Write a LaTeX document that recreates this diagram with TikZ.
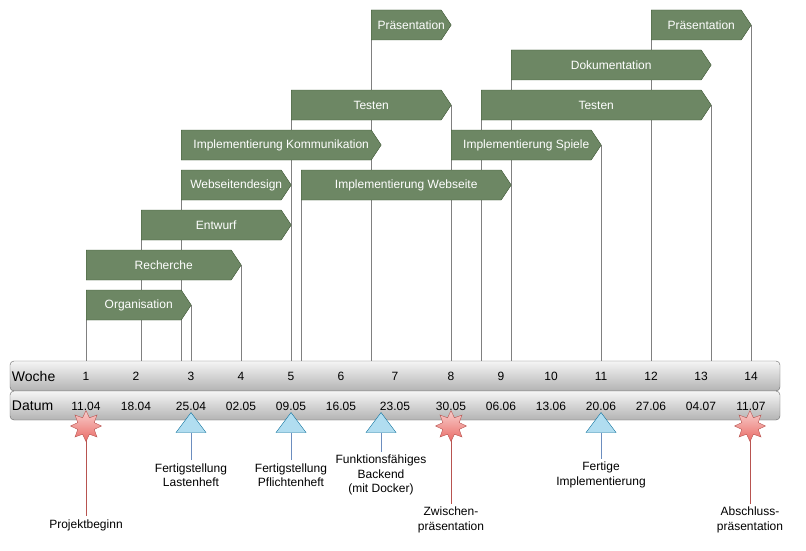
\documentclass[tikz,border=0pt]{standalone}
\usepackage{fontspec}
\setmainfont{Liberation Sans}
\usepackage{xcolor}
\usetikzlibrary{shapes.symbols, shapes.geometric, backgrounds}

\definecolor{barfill}{HTML}{6D8764}
\definecolor{barline}{HTML}{3A5431}
\definecolor{bandtop}{HTML}{F5F5F5}
\definecolor{bandbot}{HTML}{B3B3B3}
\definecolor{bandline}{HTML}{666666}
\definecolor{startop}{HTML}{F8CECC}
\definecolor{starbot}{HTML}{EA6B66}
\definecolor{starline}{HTML}{B85450}
\definecolor{trifill}{HTML}{B1DDF0}
\definecolor{triline}{HTML}{10739E}
\definecolor{trilead}{HTML}{6C8EBF}
\definecolor{tickgray}{HTML}{808080}

\begin{document}
\begin{tikzpicture}[
  x=1pt, y=-1pt,
  font=\fontsize{12}{14.5}\selectfont,
  taskbar/.style  = {shape=signal, signal to=east, signal from=nowhere,
                     signal pointer angle=112.62, draw=barline, fill=barfill,
                     text=white, minimum height=30, inner sep=0pt, anchor=west,
                     execute at begin node=\hspace*{5pt},
                     execute at end node=\hspace*{-5pt}},
  band/.style     = {draw=bandline, rounded corners=4pt, top color=bandtop,
                     bottom color=bandbot, minimum width=770, inner sep=0pt},
  bandlabel/.style= {font=\fontsize{14}{16}\selectfont, anchor=west, inner sep=2pt},
  mstar/.style    = {star, star points=8, star point ratio=1.75, minimum size=31,
                     inner sep=0pt, draw=starline, top color=startop,
                     bottom color=starbot},
  mtri/.style     = {isosceles triangle, shape border rotate=90,
                     isosceles triangle apex angle=73.74,
                     isosceles triangle stretches, minimum height=20,
                     minimum width=30, inner sep=0pt, draw=triline, fill=trifill},
  mlabel/.style   = {align=center, inner sep=3pt},
  tick/.style     = {draw=tickgray, line width=0.8pt},
  redlead/.style  = {draw=starline, line width=0.8pt},
  bluelead/.style = {draw=trilead, line width=0.8pt}
]
\useasboundingbox (0,0) rectangle (806,551);

%% ---- TASKS (placed at their left edge) ----
\node[taskbar, minimum width=80]  (praes1) at (371,25)  {Präsentation};
\node[taskbar, minimum width=100] (praes2) at (651,25)  {Präsentation};
\node[taskbar, minimum width=200] (doku)   at (511,65)  {Dokumentation};
\node[taskbar, minimum width=160] (test1)  at (291,105) {Testen};
\node[taskbar, minimum width=230] (test2)  at (481,105) {Testen};
\node[taskbar, minimum width=200] (komm)   at (181,145) {Implementierung Kommunikation};
\node[taskbar, minimum width=150] (spiele) at (451,145) {Implementierung Spiele};
\node[taskbar, minimum width=110] (design) at (181,185) {Webseitendesign};
\node[taskbar, minimum width=210] (web)    at (301,185) {Implementierung Webseite};
\node[taskbar, minimum width=150] (entw)   at (141,225) {Entwurf};
\node[taskbar, minimum width=155] (rech)   at (86,265)  {Recherche};
\node[taskbar, minimum width=105] (orga)   at (86,305)  {Organisation};

%% ---- TIMELINE ----
\node[band, minimum height=30] (woche) at (395,376)   {};
\node[band, minimum height=29] (datum) at (395,405.5) {};
\node[bandlabel] (wochelabel) at (woche.west) {Woche};
\node[bandlabel] (datumlabel) at (datum.west) {Datum};

\foreach \x [count=\i] in {86,136,191,241,291,341,395,451,501,551,601,651,701,751}
  \node (w\i) at (\x,376) {\i};
\foreach \x/\d [count=\i] in {86/11.04, 136/18.04, 191/25.04, 241/02.05,
    291/09.05, 341/16.05, 395/23.05, 451/30.05, 501/06.06, 551/13.06,
    601/20.06, 651/27.06, 701/04.07, 751/11.07}
  \node (d\i) at (\x,406) {\d};

% guide lines behind the bars
\begin{scope}[on background layer]
  \foreach \n in {orga, entw, design, web, test1, praes1, spiele, test2, doku, praes2}
    \draw[tick] (\n.west |- \n.south) -- (\n.west |- woche.north);
  \foreach \n in {orga, rech, entw, web, test1, spiele, test2, praes2}
    \draw[tick] (\n.east) -- (\n.east |- woche.north);
\end{scope}

%% ---- MILESTONES ----
\node[mstar] (start) at (86,426)  {};
\node[mstar] (zwp)   at (451,426) {};
\node[mstar] (absp)  at (750,426) {};
\node[mtri]  (last)  at (191,425) {};
\node[mtri]  (pfl)   at (291,425) {};
\node[mtri]  (back)  at (381,425) {};
\node[mtri]  (impl)  at (601,425) {};

\node[mlabel] (startlabel) at (86,525)  {Projektbeginn};
\node[mlabel] (zwplabel)   at (451,520) {Zwischen-\\präsentation};
\node[mlabel] (absplabel)  at (750,520) {Abschluss-\\präsentation};
\node[mlabel] (lastlabel)  at (191,475) {Fertigstellung\\Lastenheft};
\node[mlabel] (pfllabel)   at (291,475) {Fertigstellung\\Pflichtenheft};
\node[mlabel] (backlabel)  at (381,475) {Funktionsfähiges\\Backend\\(mit Docker)};
\node[mlabel] (impllabel)  at (601,475) {Fertige\\Implementierung};

\begin{scope}[on background layer]
  \draw[redlead] (start.center) -- (startlabel.north);
  \draw[redlead] (zwp.center)   -- (zwplabel.north);
  \draw[redlead] (absp.center)  -- (absplabel.north);
\end{scope}
\draw[bluelead] (last.south) -- (lastlabel.north);
\draw[bluelead] (pfl.south)  -- (pfllabel.north);
\draw[bluelead] (back.south) -- (backlabel.north);
\draw[bluelead] (impl.south) -- (impllabel.north);

\end{tikzpicture}
\end{document}
